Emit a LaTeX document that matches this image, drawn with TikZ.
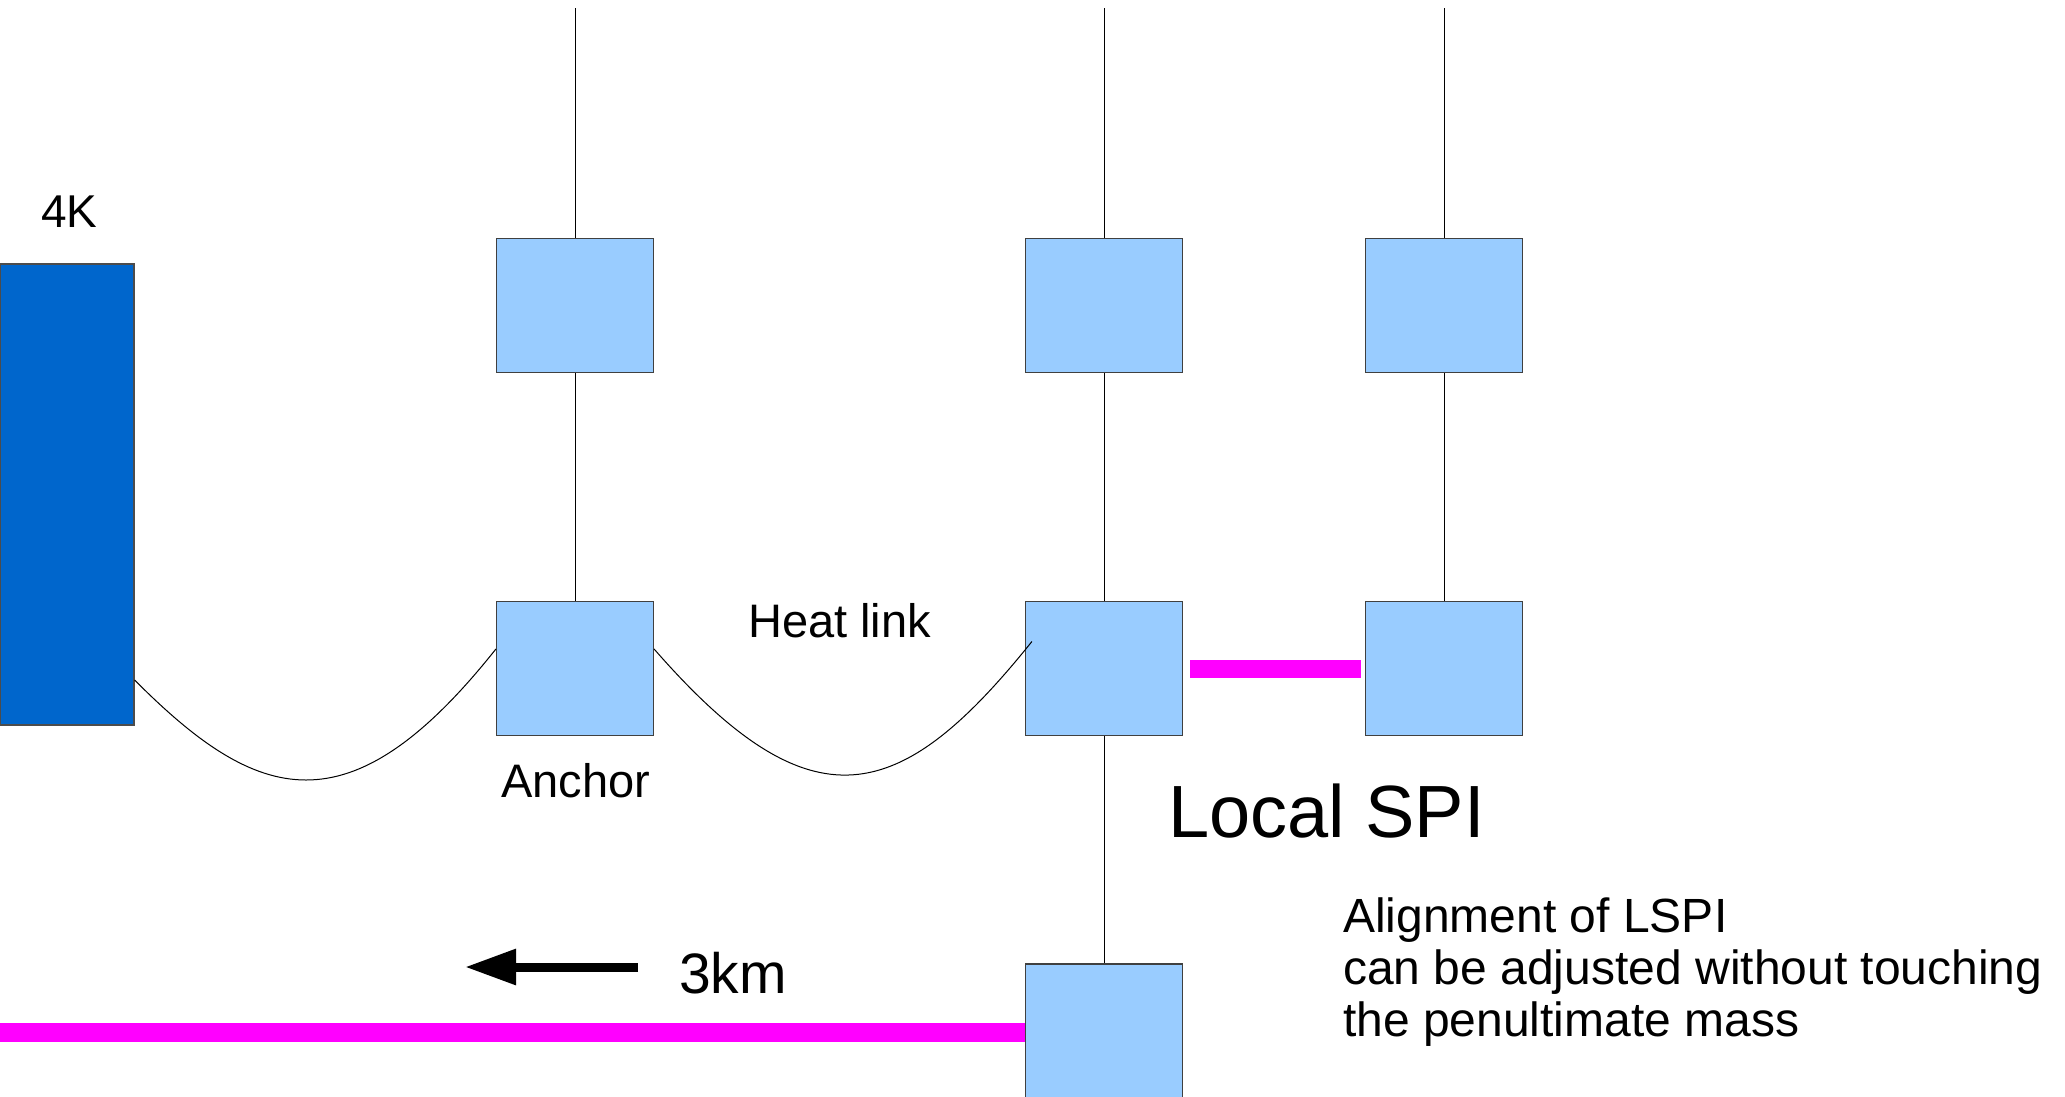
\documentclass[tikz,border=0pt]{standalone}
\usepackage{fontspec}
\setmainfont{Liberation Sans}
\usetikzlibrary{arrows.meta,calc}
\definecolor{boxblue}{HTML}{99CCFF}
\definecolor{coldblue}{HTML}{0066CC}
\definecolor{spimag}{HTML}{FF00FF}
\newcommand{\fsz}[1]{\fontsize{#1}{#1}\selectfont}
\begin{document}
\begin{tikzpicture}[x=1pt,y=-1pt,
  mass/.style={draw=black!75, line width=1.2pt, fill=boxblue, minimum width=157pt, minimum height=134pt, inner sep=0pt},
  coldbox/.style={draw=black!70, line width=1.2pt, fill=coldblue, minimum width=134pt, minimum height=461pt, inner sep=0pt},
  wire/.style={draw=black, line width=1pt},
  heatlink/.style={draw=black, line width=1pt},
  spibar/.style={draw=spimag, line width=18pt},
  lbl/.style={inner sep=0pt, anchor=base west}
]
\useasboundingbox (0,0) rectangle (2065,1096);

% cold source
\node[coldbox] (k4) at (67,494.5) {};
\node[lbl, font=\fsz{46}] (k4lbl) at (41,227) {4K};

% masses
\node[mass] (a1) at (575,305.5) {};
\node[mass] (a2) at (575,668.5) {};
\node[mass] (b1) at (1104,305.5) {};
\node[mass] (b2) at (1104,668.5) {};
\node[mass] (b3) at (1104,1031) {};
\node[mass] (c1) at (1444,305.5) {};
\node[mass] (c2) at (1444,668.5) {};

% suspension wires
\coordinate (ta) at (575,8);
\coordinate (tb) at (1104,8);
\coordinate (tc) at (1444,8);
\draw[wire] (ta) -- (a1.north);
\draw[wire] (a1.south) -- (a2.north);
\draw[wire] (tb) -- (b1.north);
\draw[wire] (b1.south) -- (b2.north);
\draw[wire] (b2.south) -- (b3.north);
\draw[wire] (tc) -- (c1.north);
\draw[wire] (c1.south) -- (c2.north);

% heat links
\draw[heatlink] ([yshift=-185.5pt]k4.east) .. controls (257,803) and (349,834) .. ([yshift=19.5pt]a2.west);
\draw[heatlink] ([yshift=19.5pt]a2.east) .. controls (812,830) and (900,806) .. ([xshift=7pt,yshift=27pt]b2.west);

% SPI bars
\draw[spibar] ([xshift=7pt]b2.east) -- ([xshift=-4pt]c2.west);
\coordinate (far) at (0,1032);
\draw[spibar, line width=19pt] (far) -- ([yshift=-1pt]b3.west);

% arrow and labels
\coordinate (arrS) at (638,967);
\coordinate (arrE) at (465,967);
\draw[line width=9pt, -{Triangle[length=51pt,width=34pt]}] (arrS) -- (arrE);
\node[lbl, font=\fsz{57}] (km) at (679,993) {3km};

\node[lbl, font=\fsz{47}] (hl) at (748,637) {Heat link};
\node[lbl, font=\fsz{47}] (anc) at (501,797) {Anchor};
\node[lbl, font=\fsz{74}] (lspi) at (1168,837) {Local SPI};
\node[lbl, font=\fsz{48}] (al1) at (1343,932) {Alignment of LSPI};
\node[lbl, font=\fsz{48}] (al2) at (1343,984.3) {can be adjusted without touching};
\node[lbl, font=\fsz{48}] (al3) at (1343,1036.6) {the penultimate mass};
\end{tikzpicture}
\end{document}
